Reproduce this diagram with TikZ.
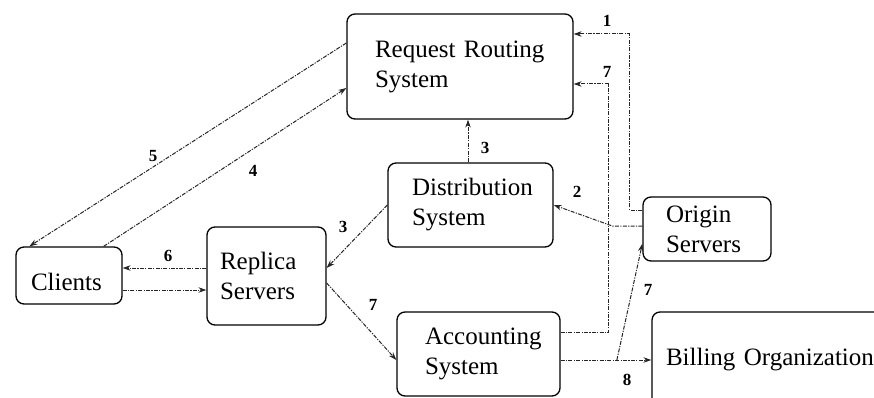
\documentclass[tikz,border=0pt]{standalone}
\usepackage{fontspec}
\setmainfont{Liberation Serif}
\usetikzlibrary{arrows.meta,calc}
\begin{document}
\begin{tikzpicture}[x=1pt,y=-1pt,
 box/.style={draw, line width=1.3pt, rounded corners=8pt, align=left, font=\fontsize{25}{30}\selectfont, anchor=center},
 flow/.style={line width=1pt, draw=black!85, dash pattern=on 4pt off 1.3pt on 1.2pt off 1.3pt, -{Stealth[length=8pt,width=5.5pt]}},
 num/.style={font=\bfseries\fontsize{17}{17}\selectfont, inner sep=0pt}]
\useasboundingbox (0,0) rectangle (874,398);

\node[box, minimum width=226, minimum height=105, text width=170, inner xsep=28] (rrs) at (460,66.5) {Request Routing\\System};
\node[box, minimum width=165, minimum height=84, text width=117, inner xsep=24] (dist) at (470.5,205) {Distribution\\System};
\node[box, minimum width=128, minimum height=64, text width=82, inner xsep=23] (origin) at (707,229) {Origin\\Servers};
\node[box, minimum width=163, minimum height=84, text width=107, inner xsep=28] (acct) at (478.5,354) {Accounting\\System};
\node[box, minimum width=106, minimum height=57, text width=76, inner xsep=15] (clients) at (69,275.5) {\rule{0pt}{30pt}Clients};
\node[box, minimum width=119, minimum height=98, text width=93, inner xsep=13] (replica) at (266.5,276) {Replica\\Servers};
\begin{scope}
\clip (0,0) rectangle (874,398);
\node[box, minimum width=240, minimum height=96, text width=212, inner xsep=14] (bill) at (772,360) {Billing Organization};
\end{scope}

% 5 and 4
\draw[flow] ([yshift=23.5]rrs.west) -- ([xshift=14]clients.north west);
\draw[flow] ([xshift=-19]clients.north east) -- ([yshift=-21.5]rrs.west);
% 3 up
\coordinate (d3) at ([xshift=-2.5]dist.north);
\draw[flow] (d3) -- (d3 |- rrs.south);
% 3 to replica
\draw[flow] (dist.west) -- ([yshift=8]replica.east);
% 6 and back
\coordinate (r6) at ([yshift=8]replica.west);
\draw[flow] (r6) -- (r6 -| clients.east);
\coordinate (r0) at ([yshift=-14]replica.west);
\draw[flow] (r0 -| clients.east) -- (r0);
% 7 replica to accounting
\draw[flow] ([yshift=-7]replica.east) -- ([yshift=-6]acct.west);
% 2
\draw[flow] ([yshift=3]origin.west) -- ++(-30,0) -- (dist.east);
% 1
\draw[flow] ([yshift=19]origin.west) -- ++(-13,0) |- ([yshift=32.5]rrs.east);
% 7 accounting to rrs
\draw[flow] ([yshift=21.5]acct.east) -- ++(48,0) |- ([yshift=-17.5]rrs.east);
% 8
\draw[flow] (acct.east |- bill.west) -- (bill.west);
% 7 to origin
\coordinate (j) at ($(acct.east |- bill.west)!0.62!(bill.west)$);
\draw[flow] (j) -- ([yshift=18]origin.south west);

\node[num] (n1) at (607,21) {1};
\node[num] (n7a) at (607,72) {7};
\node[num] (n2) at (577,192) {2};
\node[num] (n3a) at (485,148) {3};
\node[num] (n3b) at (343,227) {3};
\node[num] (n5) at (153,156) {5};
\node[num] (n4) at (253,171) {4};
\node[num] (n6) at (168,256) {6};
\node[num] (n7b) at (373,305) {7};
\node[num] (n7c) at (648,290) {7};
\node[num] (n8) at (627,380) {8};
\end{tikzpicture}
\end{document}
